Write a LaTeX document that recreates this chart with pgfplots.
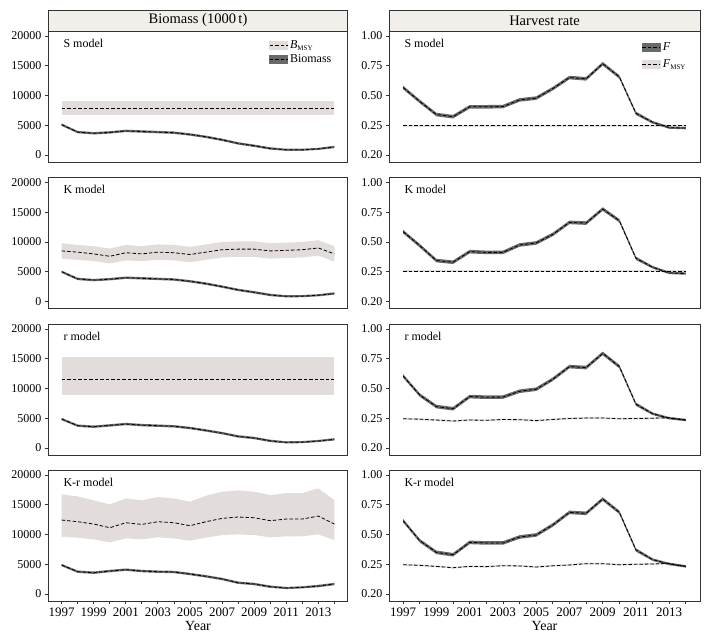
\documentclass[border=0pt]{standalone}
\usepackage{fontspec}
\setmainfont{Liberation Serif}
\usepackage{pgfplots}
\pgfplotsset{compat=1.18}
\usepackage{pgfplotstable}
\usepgfplotslibrary{fillbetween}

\definecolor{stripcol}{RGB}{242,239,235}
\definecolor{axcol}{RGB}{51,51,51}
\definecolor{bandlight}{RGB}{226,221,218}
\definecolor{banddark}{RGB}{105,105,105}
\tikzset{dline/.style={black, line width=0.8pt, dash pattern=on 3.5pt off 2pt}}

% ---------------- Biomass ----------------
\pgfplotstableread{
year lo mid hi
1997 4900 5100 5300
1998 3650 3850 4050
1999 3450 3650 3850
2000 3600 3800 4000
2001 3850 4050 4250
2002 3750 3950 4150
2003 3650 3850 4050
2004 3550 3750 3950
2005 3250 3450 3650
2006 2850 3050 3250
2007 2350 2550 2750
2008 1750 1950 2150
2009 1350 1550 1750
2010 900 1100 1300
2011 700 880 1060
2012 700 880 1060
2013 850 1030 1210
2014 1150 1350 1550
}\BS
\pgfplotstableread{
year lo mid hi
1997 6750 7900 9000
2014 6750 7900 9000
}\MS

\pgfplotstableread{
year lo mid hi
1997 4800 5000 5200
1998 3600 3800 4000
1999 3400 3600 3800
2000 3550 3750 3950
2001 3800 4000 4200
2002 3700 3900 4100
2003 3600 3800 4000
2004 3500 3700 3900
2005 3200 3400 3600
2006 2800 3000 3200
2007 2300 2500 2700
2008 1750 1950 2150
2009 1350 1550 1750
2010 900 1100 1300
2011 700 880 1060
2012 720 900 1080
2013 870 1050 1230
2014 1150 1350 1550
}\BK
\pgfplotstableread{
year lo mid hi
1997 7200 8500 9800
1998 7000 8300 9500
1999 6800 8000 9300
2000 6400 7600 8900
2001 6900 8200 9500
2002 6800 8000 9300
2003 7000 8300 9600
2004 6900 8200 9500
2005 6600 7900 9200
2006 7000 8300 9600
2007 7400 8700 10000
2008 7500 8800 10100
2009 7500 8800 10100
2010 7200 8500 9800
2011 7300 8600 9900
2012 7400 8700 10000
2013 7700 9000 10300
2014 6700 8000 9300
}\MK

\pgfplotstableread{
year lo mid hi
1997 4670 4870 5070
1998 3550 3750 3950
1999 3380 3580 3780
2000 3600 3800 4000
2001 3830 4030 4230
2002 3650 3850 4050
2003 3550 3750 3950
2004 3450 3650 3850
2005 3160 3360 3560
2006 2750 2950 3150
2007 2300 2500 2700
2008 1750 1950 2150
2009 1480 1680 1880
2010 1000 1200 1400
2011 770 950 1130
2012 810 990 1170
2013 1000 1180 1360
2014 1260 1460 1660
}\BR
\pgfplotstableread{
year lo mid hi
1997 8950 11600 15350
2014 8950 11600 15350
}\MR

\pgfplotstableread{
year lo mid hi
1997 4670 4870 5070
1998 3550 3750 3950
1999 3380 3580 3780
2000 3660 3860 4060
2001 3890 4090 4290
2002 3660 3860 4060
2003 3550 3750 3950
2004 3500 3700 3900
2005 3160 3360 3560
2006 2770 2970 3170
2007 2320 2520 2720
2008 1700 1900 2100
2009 1480 1680 1880
2010 1030 1230 1430
2011 830 1010 1190
2012 940 1120 1300
2013 1140 1340 1540
2014 1480 1680 1880
}\BKR
\pgfplotstableread{
year lo mid hi
1997 9630 12430 16740
1998 9460 12150 16400
1999 9180 11760 15740
2000 8680 11140 15060
2001 9350 11980 16070
2002 9180 11700 15740
2003 9520 12150 16300
2004 9350 11980 16070
2005 8960 11480 15510
2006 9460 12150 16520
2007 9910 12710 17190
2008 10020 12940 17420
2009 9910 12820 17190
2010 9520 12320 16630
2011 9690 12600 16970
2012 9690 12600 16970
2013 10020 13100 17750
2014 9070 11760 15790
}\MKR

% ---------------- Harvest rate ----------------
\pgfplotstableread{
year lo mid hi
1997 0.552 0.567 0.582
1998 0.435 0.450 0.465
1999 0.325 0.340 0.355
2000 0.307 0.322 0.337
2001 0.390 0.405 0.420
2002 0.390 0.405 0.420
2003 0.392 0.407 0.422
2004 0.448 0.463 0.478
2005 0.463 0.478 0.493
2006 0.543 0.558 0.573
2007 0.636 0.651 0.666
2008 0.625 0.640 0.655
2009 0.752 0.767 0.782
2010 0.641 0.656 0.671
2011 0.336 0.350 0.364
2012 0.264 0.275 0.286
2013 0.220 0.230 0.240
2014 0.216 0.226 0.236
}\FS
\pgfplotstableread{
year lo mid hi
1997 0.239 0.247 0.255
2014 0.239 0.247 0.255
}\FmS

\pgfplotstableread{
year lo mid hi
1997 0.572 0.587 0.602
1998 0.454 0.469 0.484
1999 0.329 0.344 0.359
2000 0.315 0.330 0.345
2001 0.404 0.419 0.434
2002 0.398 0.413 0.428
2003 0.398 0.413 0.428
2004 0.460 0.475 0.490
2005 0.477 0.492 0.507
2006 0.549 0.564 0.579
2007 0.650 0.665 0.680
2008 0.644 0.659 0.674
2009 0.762 0.777 0.792
2010 0.664 0.679 0.694
2011 0.349 0.363 0.377
2012 0.277 0.288 0.299
2013 0.230 0.240 0.250
2014 0.225 0.235 0.245
}\FK
\pgfplotstableread{
year lo mid hi
1997 0.247 0.255 0.263
2014 0.247 0.255 0.263
}\FmK

\pgfplotstableread{
year lo mid hi
1997 0.590 0.605 0.620
1998 0.430 0.445 0.460
1999 0.333 0.348 0.363
2000 0.315 0.330 0.345
2001 0.417 0.432 0.447
2002 0.412 0.427 0.442
2003 0.413 0.428 0.443
2004 0.462 0.477 0.492
2005 0.479 0.494 0.509
2006 0.563 0.578 0.593
2007 0.669 0.684 0.699
2008 0.661 0.676 0.691
2009 0.780 0.795 0.810
2010 0.669 0.684 0.699
2011 0.354 0.368 0.382
2012 0.277 0.288 0.299
2013 0.240 0.250 0.260
2014 0.225 0.235 0.245
}\FR
\pgfplotstableread{
year lo mid hi
1997 0.238 0.246 0.254
1998 0.234 0.242 0.250
1999 0.227 0.235 0.243
2000 0.219 0.227 0.235
2001 0.227 0.235 0.243
2002 0.225 0.233 0.241
2003 0.232 0.240 0.248
2004 0.230 0.238 0.246
2005 0.222 0.230 0.238
2006 0.232 0.240 0.248
2007 0.240 0.248 0.256
2008 0.244 0.252 0.260
2009 0.244 0.252 0.260
2010 0.238 0.246 0.254
2011 0.240 0.248 0.256
2012 0.242 0.250 0.258
2013 0.247 0.255 0.263
2014 0.227 0.235 0.243
}\FmR

\pgfplotstableread{
year lo mid hi
1997 0.601 0.616 0.631
1998 0.433 0.448 0.463
1999 0.335 0.350 0.365
2000 0.315 0.330 0.345
2001 0.419 0.434 0.449
2002 0.414 0.429 0.444
2003 0.414 0.429 0.444
2004 0.464 0.479 0.494
2005 0.481 0.496 0.511
2006 0.565 0.580 0.595
2007 0.671 0.686 0.701
2008 0.663 0.678 0.693
2009 0.783 0.798 0.813
2010 0.671 0.686 0.701
2011 0.356 0.370 0.384
2012 0.278 0.289 0.300
2013 0.242 0.252 0.262
2014 0.222 0.232 0.242
}\FKR
\pgfplotstableread{
year lo mid hi
1997 0.238 0.246 0.254
1998 0.233 0.241 0.249
1999 0.224 0.232 0.240
2000 0.213 0.221 0.229
2001 0.224 0.232 0.240
2002 0.222 0.230 0.238
2003 0.230 0.238 0.246
2004 0.228 0.236 0.244
2005 0.219 0.227 0.235
2006 0.229 0.237 0.245
2007 0.236 0.244 0.252
2008 0.247 0.255 0.263
2009 0.247 0.255 0.263
2010 0.238 0.246 0.254
2011 0.242 0.250 0.258
2012 0.244 0.252 0.260
2013 0.250 0.258 0.266
2014 0.224 0.232 0.240
}\FmKR

\pgfplotsset{
  base/.style={scale only axis, height=131pt, xmin=1996.15, xmax=2014.85,
    axis line style={draw=axcol, line width=1pt},
    tick style={draw=axcol, line width=0.8pt},
    tick align=outside, major tick length=3pt, minor tick length=3pt,
    xtick pos=bottom, ytick pos=left,
    ticklabel style={font=\fontsize{12}{12}\selectfont},
    /pgf/number format/assume math mode=true,
    anchor=north west},
  leftp/.style={base, width=300pt, ymin=-1176, ymax=20840,
    ytick={0,5000,10000,15000,20000}, scaled y ticks=false,
    yticklabel style={/pgf/number format/.cd, fixed, 1000 sep={}}},
  rightp/.style={base, width=311pt, ymin=-0.0588, ymax=1.042,
    ytick={0,0.25,0.5,0.75,1}, yticklabels={0.20,0.25,0.50,0.75,1.00}},
  noxt/.style={xtick=\empty},
  botx/.style={xtick={1997,1999,2001,2003,2005,2007,2009,2011,2013},
    minor xtick={1998,2000,2002,2004,2006,2008,2010,2012,2014},
    xticklabel style={font=\fontsize{13}{13}\selectfont, /pgf/number format/.cd, fixed, 1000 sep={}},
    xlabel={Year}, xlabel style={font=\fontsize{14}{14}\selectfont, yshift=2pt}},
}

\newcommand{\bandline}[3]{%
  \addplot[name path=hi#3, draw=none, forget plot] table[x=year,y=hi]{#1};
  \addplot[name path=lo#3, draw=none, forget plot] table[x=year,y=lo]{#1};
  \addplot[fill=#2, draw=none, forget plot] fill between[of=hi#3 and lo#3];
  \addplot[dline, forget plot] table[x=year,y=mid]{#1};
}

\newcommand{\modlabel}[2]{%
  \node[anchor=west, font=\fontsize{12}{12}\selectfont] at ([xshift=12pt,yshift=-12pt]#1.north west) {#2};}

\begin{document}
\begin{tikzpicture}
\path (0,0) rectangle (721pt,-638pt);

% Row 1
\begin{axis}[leftp, noxt, name=a11, at={(48pt,-31pt)},
  legend style={draw=none, fill=none, at={(0.952,0.945)}, anchor=north east,
    font=\fontsize{12}{13}\selectfont, inner sep=0pt, row sep=1pt},
  legend cell align=left]
  \bandline{\MS}{bandlight}{a}
  \bandline{\BS}{banddark}{b}
  \addlegendimage{legend image code/.code={\fill[bandlight] (0pt,-4pt) rectangle (18pt,4pt); \draw[dline] (0pt,0pt) -- (18pt,0pt);}}
  \addlegendentry{\textit{B}\textsubscript{\fontsize{7}{7}\selectfont MSY}}
  \addlegendimage{legend image code/.code={\fill[banddark] (0pt,-4pt) rectangle (18pt,4pt); \draw[dline] (0pt,0pt) -- (18pt,0pt);}}
  \addlegendentry{Biomass}
\end{axis}
\begin{axis}[rightp, noxt, name=a12, at={(389pt,-31pt)},
  legend style={draw=none, fill=none, at={(0.962,0.93)}, anchor=north east,
    font=\fontsize{12}{13}\selectfont, inner sep=0pt, row sep=4pt},
  legend cell align=left]
  \bandline{\FmS}{bandlight}{a}
  \bandline{\FS}{banddark}{b}
  \addlegendimage{legend image code/.code={\fill[banddark] (0pt,-4pt) rectangle (18pt,4pt); \draw[dline] (0pt,0pt) -- (18pt,0pt);}}
  \addlegendentry{\textit{F}}
  \addlegendimage{legend image code/.code={\fill[bandlight] (0pt,-4pt) rectangle (18pt,4pt); \draw[dline] (0pt,0pt) -- (18pt,0pt);}}
  \addlegendentry{\textit{F}\textsubscript{\fontsize{7}{7}\selectfont MSY}}
\end{axis}

% Row 2
\begin{axis}[leftp, noxt, name=a21, at={(48pt,-177.5pt)}]
  \bandline{\MK}{bandlight}{a}
  \bandline{\BK}{banddark}{b}
\end{axis}
\begin{axis}[rightp, noxt, name=a22, at={(389pt,-177.5pt)}]
  \bandline{\FmK}{bandlight}{a}
  \bandline{\FK}{banddark}{b}
\end{axis}

% Row 3
\begin{axis}[leftp, noxt, name=a31, at={(48pt,-324pt)}]
  \bandline{\MR}{bandlight}{a}
  \bandline{\BR}{banddark}{b}
\end{axis}
\begin{axis}[rightp, noxt, name=a32, at={(389pt,-324pt)}]
  \bandline{\FmR}{bandlight}{a}
  \bandline{\FR}{banddark}{b}
\end{axis}

% Row 4
\begin{axis}[leftp, botx, name=a41, at={(48pt,-470pt)}]
  \bandline{\MKR}{bandlight}{a}
  \bandline{\BKR}{banddark}{b}
\end{axis}
\begin{axis}[rightp, botx, name=a42, at={(389pt,-470pt)}]
  \bandline{\FmKR}{bandlight}{a}
  \bandline{\FKR}{banddark}{b}
\end{axis}

% strips
\draw[fill=stripcol, draw=axcol, line width=1pt] (a11.north west) rectangle ([yshift=21pt]a11.north east);
\node[font=\fontsize{14.5}{14.5}\selectfont] at ([yshift=10.5pt]a11.north) {Biomass (1000\,t)};
\draw[fill=stripcol, draw=axcol, line width=1pt] (a12.north west) rectangle ([yshift=21pt]a12.north east);
\node[font=\fontsize{14.5}{14.5}\selectfont] at ([yshift=10.5pt]a12.north) {Harvest rate};

% model labels
\modlabel{a11}{S model}
\modlabel{a12}{S model}
\modlabel{a21}{K model}
\modlabel{a22}{K model}
\modlabel{a31}{r model}
\modlabel{a32}{r model}
\modlabel{a41}{K-r model}
\modlabel{a42}{K-r model}
\end{tikzpicture}
\end{document}
